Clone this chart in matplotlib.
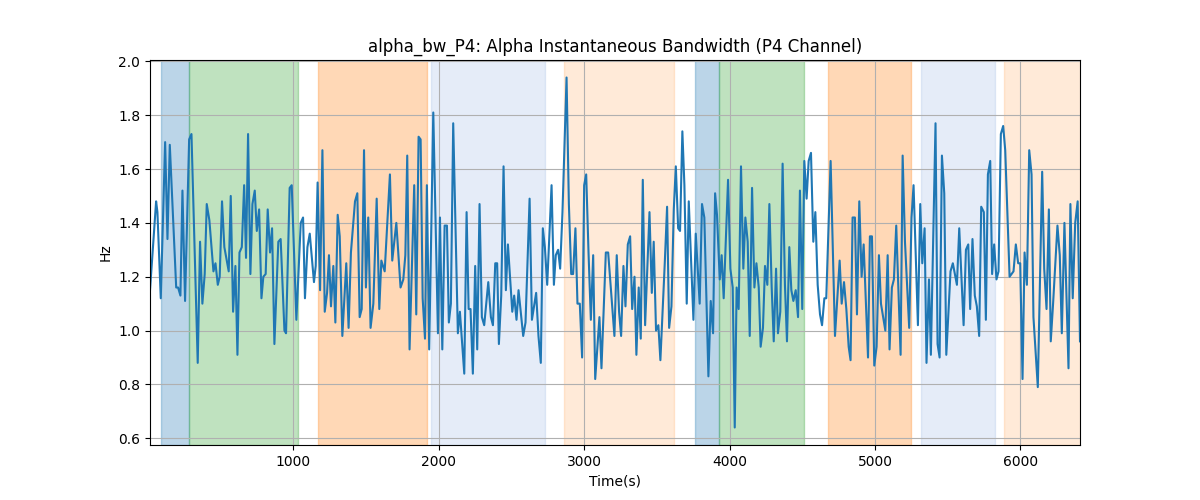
import numpy as np
import matplotlib
matplotlib.use('Agg')
import matplotlib.pyplot as plt

# time (s) and instantaneous bandwidth (Hz)
t = [17, 59, 68, 91, 121, 137, 153, 169, 197, 210, 226, 240, 258, 286, 302,
     345, 361, 377, 393, 407, 425, 453, 467, 483, 496, 512, 528, 558, 572, 588,
     604, 618, 632, 648, 664, 677, 691, 707, 721, 737, 751, 767, 783, 796, 812,
     826, 842,
     856, 872, 899, 915, 941, 952, 977, 991, 1023, 1053, 1069, 1082, 1099, 1115,
     1144, 1156, 1169, 1186, 1202, 1218, 1234, 1247, 1261, 1277, 1291, 1307, 1321,
     1339, 1353, 1366, 1382, 1398, 1426, 1442, 1458, 1472, 1488, 1501, 1517, 1533,
     1552, 1575, 1593, 1607,
     1630, 1666, 1682, 1710, 1739, 1758, 1772, 1785, 1801, 1833, 1847, 1863, 1877,
     1891, 1907, 1920, 1936, 1964, 1996, 2010, 2026, 2042, 2058, 2071, 2085, 2101,
     2133, 2147, 2177, 2193, 2207, 2220, 2236, 2252, 2266, 2282, 2298, 2314, 2342,
     2360, 2374, 2390, 2403,
     2415, 2431, 2447, 2463, 2477, 2507, 2520, 2536, 2550, 2582, 2598, 2626, 2642,
     2671, 2687, 2703, 2717, 2731, 2747, 2777, 2793, 2806, 2822, 2836, 2852, 2880,
     2896, 2912, 2925, 2941, 2955, 2971, 2987, 3001, 3015, 3031, 3047, 3063, 3077,
     3106, 3120, 3150, 3166,
     3209, 3225, 3241, 3255, 3271, 3285, 3301, 3317, 3331, 3347, 3360, 3376, 3390,
     3404, 3420, 3450, 3466, 3479, 3495, 3511, 3525, 3555, 3571, 3585, 3601, 3617,
     3631, 3647, 3660, 3676, 3690, 3706, 3720, 3752, 3768, 3795, 3811, 3827, 3855,
     3871, 3887, 3901, 3914, 3933, 3946, 3960, 3990,
     4006, 4022, 4036, 4049, 4063, 4079, 4095, 4109, 4125, 4139, 4155, 4171, 4185,
     4201, 4214, 4230, 4244, 4260, 4274, 4290, 4304, 4320, 4333, 4349, 4365, 4381,
     4395, 4411, 4425, 4439, 4455, 4471, 4484, 4500, 4514, 4530, 4544, 4560, 4576,
     4590, 4606, 4622, 4636, 4652, 4665, 4695, 4725, 4757, 4771, 4787,
     4803, 4819, 4832, 4846, 4862, 4876, 4892, 4908, 4922, 4952, 4965, 4979, 4995,
     5011, 5027, 5041, 5071, 5087, 5100, 5116, 5130, 5146, 5176, 5190, 5206, 5235,
     5251, 5265, 5295, 5311, 5325, 5341, 5354, 5371, 5384, 5416, 5430, 5444, 5460,
     5476, 5490, 5519, 5535, 5563, 5579,
     5609, 5625, 5641, 5654, 5670, 5686, 5700, 5716, 5730, 5748, 5762, 5776, 5792,
     5805, 5819, 5835, 5849, 5865, 5881, 5895, 5925, 5952, 5968, 5984, 5998, 6014,
     6028, 6044, 6060, 6076, 6089, 6119, 6149, 6163, 6179, 6195, 6208, 6224, 6254,
     6270, 6284, 6302, 6330, 6343, 6359, 6376, 6393, 6409]
bw = [1.15, 1.48, 1.44, 1.12, 1.70, 1.34, 1.69, 1.50, 1.16, 1.16, 1.13, 1.52, 1.11, 1.71, 1.73,
      0.88, 1.33, 1.10, 1.21, 1.47, 1.41, 1.22, 1.25, 1.17, 1.20, 1.48, 1.31, 1.22, 1.50, 1.07,
      1.24, 0.91, 1.29, 1.31, 1.54, 1.27, 1.73, 1.21, 1.47, 1.52, 1.37, 1.45, 1.12, 1.20, 1.21,
      1.45, 1.29,
      1.38, 0.95, 1.33, 1.34, 1.00, 0.99, 1.53, 1.54, 1.04, 1.40, 1.42, 1.12, 1.31, 1.36,
      1.18, 1.24, 1.55, 1.15, 1.67, 1.07, 1.14, 1.28, 1.09, 1.24, 1.03, 1.43, 1.35,
      0.98, 1.12, 1.25, 1.01, 1.29, 1.48, 1.51, 1.05, 1.08, 1.67, 1.16, 1.42, 1.01,
      1.10, 1.49, 1.08, 1.26,
      1.22, 1.58, 1.26, 1.40, 1.16, 1.19, 1.28, 1.65, 0.93, 1.54, 1.06, 1.72, 1.71,
      1.12, 0.97, 1.54, 0.93, 1.81, 0.99, 1.42, 0.93, 1.39, 1.39, 1.03, 1.10, 1.77,
      0.99, 1.07, 0.84, 1.44, 1.08, 1.08, 0.84, 1.24, 0.93, 1.47, 1.05, 1.02, 1.18,
      1.05, 1.02, 1.25, 1.25,
      0.95, 1.13, 1.61, 1.15, 1.32, 1.07, 1.13, 1.04, 1.15, 0.98, 1.03, 1.49, 1.04,
      1.14, 0.98, 0.88, 1.38, 1.31, 1.17, 1.54, 1.17, 1.28, 1.30, 1.23, 1.44, 1.94,
      1.47, 1.21, 1.21, 1.38, 1.10, 1.10, 0.90, 1.54, 1.58, 1.29, 1.04, 1.28, 0.82,
      1.05, 0.86, 1.29, 1.29,
      0.98, 1.28, 1.07, 0.98, 1.24, 1.09, 1.32, 1.35, 1.08, 1.20, 0.91, 1.16, 0.97,
      1.56, 1.02, 1.44, 1.14, 1.33, 1.00, 1.02, 0.89, 1.25, 1.46, 1.01, 1.09, 1.45,
      1.61, 1.38, 1.37, 1.74, 1.54, 1.10, 1.48, 1.04, 1.36, 1.10, 1.47, 1.42, 0.83,
      1.11, 0.99, 1.51, 1.43, 1.19, 1.28, 1.12, 1.56,
      1.23, 1.16, 0.64, 1.16, 1.08, 1.61, 1.23, 1.42, 1.33, 0.98, 1.53, 1.16, 1.25,
      1.16, 0.94, 1.01, 1.24, 1.17, 1.47, 1.16, 0.96, 1.23, 0.99, 1.07, 1.62, 1.17,
      0.96, 1.31, 1.15, 1.11, 1.15, 1.05, 1.52, 1.08, 1.63, 1.49, 1.63, 1.66, 1.33,
      1.44, 1.17, 1.06, 1.02, 1.12, 1.12, 1.63, 0.98, 1.26, 1.10, 1.18,
      1.08, 0.94, 0.89, 1.42, 1.42, 1.06, 1.48, 1.20, 1.32, 0.90, 1.35, 1.35, 0.87,
      0.94, 1.28, 1.10, 1.00, 1.28, 0.93, 1.16, 1.19, 1.39, 0.91, 1.65, 1.33, 1.01,
      1.42, 1.54, 1.02, 1.47, 1.25, 1.38, 0.88, 1.19, 0.91, 1.77, 0.95, 0.90, 1.65,
      1.51, 0.91, 1.22, 1.25, 1.17, 1.38,
      1.02, 1.30, 1.32, 1.08, 1.34, 1.13, 1.09, 0.98, 1.46, 1.44, 1.04, 1.58, 1.63,
      1.21, 1.32, 1.19, 1.22, 1.73, 1.76, 1.67, 1.20, 1.22, 1.32, 1.25, 1.25, 0.82,
      1.29, 1.17, 1.67, 1.58, 1.05, 0.79, 1.59, 1.23, 1.08, 1.45, 0.96, 1.10, 1.39,
      1.28, 0.99, 1.40, 0.86, 1.47, 1.12, 1.40, 1.48, 0.96]

# shaded segments
seg_start = [93, 286, 1170, 1946, 2861, 3763, 3928, 4677, 5313, 5890]
seg_end = [286, 1034, 1918, 2732, 3617, 3928, 4515, 5248, 5823, 6420]
seg_color = ['C0', 'C2', 'C1', '#4a7fd0', 'C1', 'C0', 'C2', 'C1', '#4a7fd0', 'C1']
seg_alpha = [0.3, 0.3, 0.3, 0.14, 0.16, 0.3, 0.3, 0.3, 0.14, 0.16]

fig, ax = plt.subplots(figsize=(12, 5), dpi=100)

for s, e, c, a in zip(seg_start, seg_end, seg_color, seg_alpha):
    ax.axvspan(s, e, color=c, alpha=a)

ax.plot(t, bw, color='C0')
ax.set_xlim(t[0], t[-1])
ax.grid(True)
ax.set_title('alpha_bw_P4: Alpha Instantaneous Bandwidth (P4 Channel)')
ax.set_xlabel('Time(s)')
ax.set_ylabel('Hz')

fig.savefig('out.png')
